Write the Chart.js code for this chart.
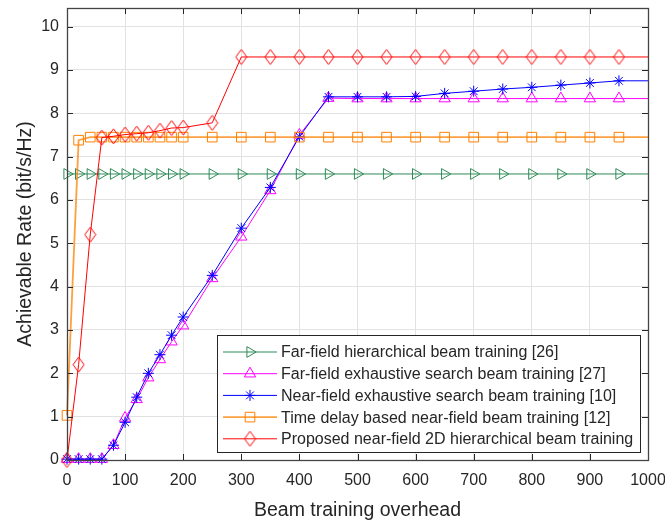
<!DOCTYPE html>
<html>
<head>
<meta charset="utf-8">
<script src="https://cdn.jsdelivr.net/npm/chart.js@4.4.1/dist/chart.umd.min.js"></script>
<style>
  html, body { margin: 0; padding: 0; background: #fff; }
  #wrap { width: 665px; height: 523px; }
</style>
</head>
<body>
<div id="wrap"><canvas id="rateChart" width="665" height="523"></canvas></div>
<script>
// x positions (beam training overhead); last point 1000 has no marker
const xDense = [0, 20, 40, 60, 80, 100, 120, 140, 160, 180, 200, 250, 300, 350, 400, 450, 500, 550, 600, 650, 700, 750, 800, 850, 900, 950, 1000];

const farHier   = [6.6, 6.6, 6.6, 6.6, 6.6, 6.6, 6.6, 6.6, 6.6, 6.6, 6.6, 6.6, 6.6, 6.6, 6.6, 6.6, 6.6, 6.6, 6.6, 6.6, 6.6, 6.6, 6.6, 6.6, 6.6, 6.6, 6.6];
const farExh    = [0.02, 0.02, 0.02, 0.02, 0.34, 0.97, 1.4, 1.9, 2.32, 2.73, 3.1, 4.19, 5.15, 6.22, 7.5, 8.35, 8.34, 8.34, 8.34, 8.34, 8.34, 8.34, 8.34, 8.34, 8.34, 8.34, 8.34];
const nearExh   = [0.02, 0.02, 0.02, 0.02, 0.34, 0.87, 1.45, 2.0, 2.43, 2.88, 3.3, 4.26, 5.35, 6.29, 7.46, 8.38, 8.38, 8.38, 8.39, 8.46, 8.51, 8.56, 8.6, 8.65, 8.7, 8.75, 8.75];
const timeDelay = [1.03, 7.38, 7.45, 7.45, 7.45, 7.45, 7.45, 7.45, 7.45, 7.45, 7.45, 7.45, 7.45, 7.45, 7.45, 7.45, 7.45, 7.45, 7.45, 7.45, 7.45, 7.45, 7.45, 7.45, 7.45, 7.45, 7.45];
const proposed  = [0.0, 2.2, 5.2, 7.44, 7.47, 7.51, 7.53, 7.55, 7.6, 7.66, 7.67, 7.78, 9.3, 9.3, 9.3, 9.3, 9.3, 9.3, 9.3, 9.3, 9.3, 9.3, 9.3, 9.3, 9.3, 9.3, 9.3];

const seriesNames = [
  'Far-field hierarchical beam training [26]',
  'Far-field exhaustive search beam training [27]',
  'Near-field exhaustive search beam training [10]',
  'Time delay based near-field beam training [12]',
  'Proposed near-field 2D hierarchical beam training'
];

const xTicks = [0, 100, 200, 300, 400, 500, 600, 700, 800, 900, 1000];
const yTicks = [0, 1, 2, 3, 4, 5, 6, 7, 8, 9, 10];

const GREEN = 'rgb(46,139,87)';
const MAGENTA = '#ff00ff';
const BLUE = '#0000ff';
const ORANGE = '#ff8000';
const RED = '#ff0000';
const AXIS = '#262626';
const FONT = '"Liberation Sans", Arial, sans-serif';

// MATLAB diamonds are taller than wide
function makeDiamond(w, h, color) {
  const c = document.createElement('canvas');
  c.width = w + 2; c.height = h + 2;
  const g = c.getContext('2d');
  g.strokeStyle = color;
  g.lineWidth = 1;
  g.beginPath();
  g.moveTo(c.width / 2, 1);
  g.lineTo(c.width - 1, c.height / 2);
  g.lineTo(c.width / 2, c.height - 1);
  g.lineTo(1, c.height / 2);
  g.closePath();
  g.stroke();
  return c;
}
const diamond = makeDiamond(11, 15, RED);

function pts(ys) {
  return xDense.map((x, i) => ({ x: x, y: ys[i] }));
}
function radii(r) {
  return xDense.map((x, i) => (i === xDense.length - 1 ? 0 : r));
}

const datasets = [
  { label: seriesNames[0], data: pts(farHier), borderColor: GREEN, pointBorderColor: GREEN,
    pointStyle: 'triangle', rotation: 90, pointRadius: radii(6.2), order: 5 },
  { label: seriesNames[1], data: pts(farExh), borderColor: MAGENTA, pointBorderColor: MAGENTA,
    pointStyle: 'triangle', pointRadius: radii(6.5), order: 4 },
  { label: seriesNames[2], data: pts(nearExh), borderColor: BLUE, pointBorderColor: BLUE,
    pointStyle: 'star', pointRadius: radii(5.5), order: 3 },
  { label: seriesNames[3], data: pts(timeDelay), borderColor: 'rgba(255,128,0,0.75)', pointBorderColor: ORANGE,
    pointStyle: 'rect', pointRadius: radii(6.8), borderWidth: 1.8, order: 2 },
  { label: seriesNames[4], data: pts(proposed), borderColor: RED, pointBorderColor: RED,
    pointStyle: diamond, pointRadius: radii(7), order: 1 }
];
datasets.forEach(d => {
  d.borderWidth = d.borderWidth || 1;
  d.pointBackgroundColor = 'rgba(0,0,0,0)';
  d.pointBorderWidth = 1;
  d.tension = 0;
  d.fill = false;
  d.clip = false;
  d.pointHoverRadius = d.pointRadius;
});

// box with inward ticks, MATLAB style
const boxPlugin = {
  id: 'box',
  afterDatasetsDraw(chart) {
    const { ctx, chartArea: a, scales } = chart;
    ctx.save();
    ctx.strokeStyle = AXIS;
    ctx.lineWidth = 1;
    ctx.beginPath();
    xTicks.forEach(v => {
      const px = Math.round(scales.x.getPixelForValue(v)) + 0.5;
      ctx.moveTo(px, a.bottom); ctx.lineTo(px, a.bottom - 6);
      ctx.moveTo(px, a.top); ctx.lineTo(px, a.top + 6);
    });
    yTicks.forEach(v => {
      const py = Math.round(scales.y.getPixelForValue(v)) + 0.5;
      ctx.moveTo(a.left, py); ctx.lineTo(a.left + 6, py);
      ctx.moveTo(a.right, py); ctx.lineTo(a.right - 6, py);
    });
    ctx.stroke();
    ctx.strokeStyle = '#444';
    ctx.lineWidth = 1.3;
    ctx.strokeRect(a.left + 0.5, a.top + 0.5, a.right - a.left, a.bottom - a.top);
    ctx.restore();
  }
};

// legend inside the lower-right corner of the axes
const legendPlugin = {
  id: 'boxLegend',
  afterDraw(chart) {
    const { ctx, chartArea: a } = chart;
    const w = 423, h = 117;
    const x0 = a.right - 8 - w, y0 = a.bottom - 8 - h;
    ctx.save();
    ctx.fillStyle = '#fff';
    ctx.fillRect(x0, y0, w, h);
    ctx.strokeStyle = AXIS;
    ctx.lineWidth = 1;
    ctx.strokeRect(x0 + 0.5, y0 + 0.5, w, h);
    ctx.font = '16px ' + FONT;
    ctx.textBaseline = 'middle';
    chart.data.datasets.forEach((d, i) => {
      const cy = y0 + 17 + i * 21.7;
      ctx.strokeStyle = d.borderColor;
      ctx.lineWidth = d.borderWidth;
      ctx.beginPath();
      ctx.moveTo(x0 + 6, cy); ctx.lineTo(x0 + 60, cy);
      ctx.stroke();
      ctx.strokeStyle = d.pointBorderColor;
      ctx.fillStyle = 'rgba(0,0,0,0)';
      ctx.lineWidth = 1;
      Chart.helpers.drawPoint(ctx, {
        pointStyle: d.pointStyle,
        rotation: d.rotation || 0,
        radius: d.pointRadius[0],
        borderWidth: 1
      }, x0 + 33, cy);
      ctx.fillStyle = AXIS;
      ctx.fillText(d.label, x0 + 64, cy + 1);
    });
    ctx.restore();
  }
};

new Chart(document.getElementById('rateChart').getContext('2d'), {
  type: 'line',
  data: { datasets: datasets },
  plugins: [boxPlugin, legendPlugin],
  options: {
    responsive: false,
    animation: false,
    devicePixelRatio: 1,
    layout: { padding: { top: 4, right: 17, left: 0, bottom: 0 } },
    plugins: { legend: { display: false }, tooltip: { enabled: false } },
    scales: {
      x: {
        type: 'linear',
        min: 0,
        max: 1000,
        afterBuildTicks: s => { s.ticks = xTicks.map(v => ({ value: v })); },
        afterFit: s => { s.height = 63; s.paddingLeft = 0; s.paddingRight = 0; },
        grid: { color: '#e2e2e2', drawTicks: false },
        border: { display: false },
        ticks: { color: AXIS, padding: 11, maxRotation: 0, autoSkip: false,
                 callback: v => String(v), font: { size: 16, family: FONT } },
        title: {
          display: true,
          text: 'Beam training overhead',
          color: AXIS,
          padding: { top: 0, bottom: 1 },
          font: { size: 19.5, family: FONT }
        }
      },
      y: {
        min: 0,
        max: 10.43,
        afterBuildTicks: s => { s.ticks = yTicks.map(v => ({ value: v })); },
        afterFit: s => { s.width = 67; s.paddingTop = 0; s.paddingBottom = 0; },
        grid: { color: '#e2e2e2', drawTicks: false },
        border: { display: false },
        ticks: { color: AXIS, padding: 8, callback: v => String(v), font: { size: 16, family: FONT } },
        title: {
          display: true,
          text: 'Achievable Rate (bit/s/Hz)',
          color: AXIS,
          padding: { top: 14, bottom: 0 },
          font: { size: 19.5, family: FONT }
        }
      }
    }
  }
});
</script>
</body>
</html>
